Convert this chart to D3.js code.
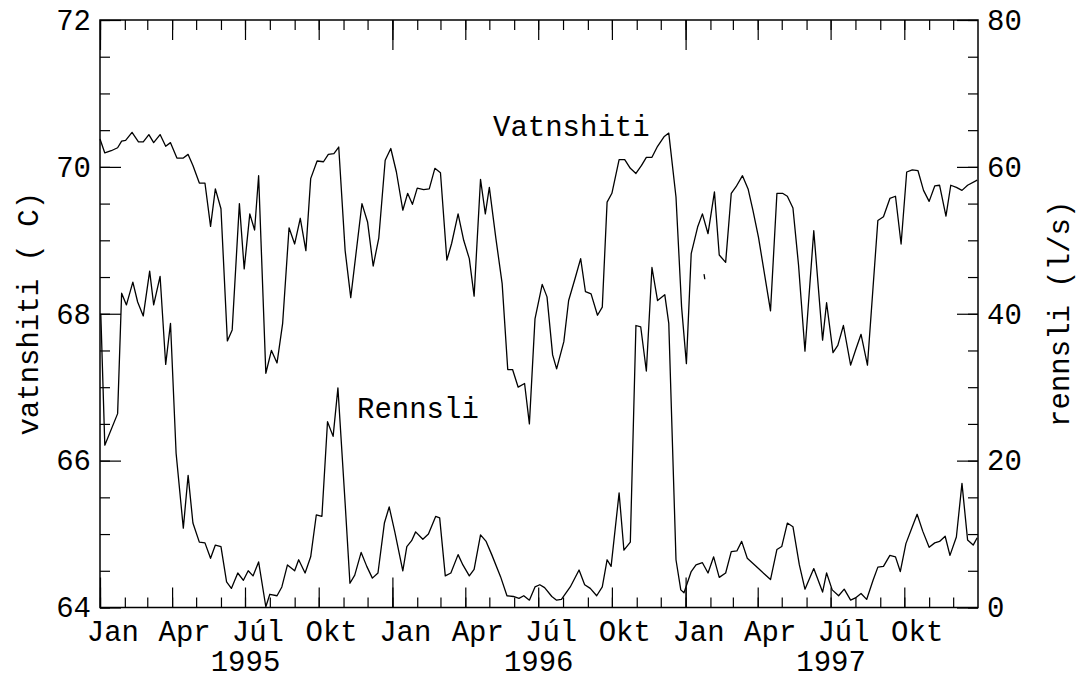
<!DOCTYPE html>
<html>
<head>
<meta charset="utf-8">
<script src="https://cdn.jsdelivr.net/npm/d3@7/dist/d3.min.js"></script>
<style>
  html, body { margin: 0; padding: 0; background: #fff; }
  svg { display: block; }
  text { font-family: "Courier New", "Liberation Mono", monospace; font-size: 29px; fill: #000; }
  .tick line { stroke: #000; stroke-width: 1.2; }
  .domain { display: none; }
  .series { fill: none; stroke: #000; stroke-width: 1.3; stroke-linejoin: round; }
</style>
</head>
<body>
<svg id="chart" width="1077" height="680"></svg>
<script>
// days since 1 Jan 1995, water temperature (C)
const vatnDays = [0,6,14,22,27,32,40,48,54,61,67,75,82,88,96,104,110,116,124,131,138,144,151,159,165,174,180,187,193,198,
  207,214,221,228,236,243,250,257,263,271,279,285,292,298,306,313,327,334,341,348,356,363,370,378,384,390,396,404,411,418,
  425,433,439,447,454,461,467,475,481,486,494,502,509,515,522,530,536,543,552,558,565,570,579,585,593,600,606,613,621,627,
  633,639,648,655,662,669,676,682,689,696,704,710,719,726,732,738,746,752,759,767,773,781,788,794,802,809,815,822,837,845,
  852,858,865,872,880,891,902,907,915,921,928,937,943,950,958,965,971,978,986,993,1000,1007,1014,1021,1028,1035,1042,1048,1056,1062,
  1069,1076,1083,1095];
const vatnTemp = [70.38,70.19,70.22,70.26,70.35,70.36,70.47,70.34,70.34,70.44,70.33,70.44,70.28,70.33,70.12,70.12,70.17,70.02,69.78,69.78,
  69.19,69.70,69.43,67.63,67.78,69.50,68.61,69.36,69.14,69.88,67.19,67.50,67.33,67.87,69.17,68.95,69.30,68.86,69.84,70.08,
  70.07,70.17,70.18,70.27,68.86,68.22,69.50,69.25,68.65,69.03,70.09,70.25,69.93,69.41,69.64,69.49,69.71,69.69,69.70,69.98,
  69.92,68.73,68.96,69.36,69.00,68.75,68.24,69.83,69.36,69.72,69.04,68.41,67.24,67.24,67.00,67.05,66.50,67.93,68.40,68.23,
  67.44,67.25,67.62,68.18,68.48,68.75,68.30,68.27,67.98,68.09,69.52,69.64,70.10,70.10,69.98,69.91,70.02,70.13,70.13,70.28,
  70.41,70.46,69.59,68.09,67.32,68.82,69.18,69.36,69.09,69.66,68.80,68.70,69.64,69.73,69.88,69.70,69.41,69.04,68.04,69.64,
  69.64,69.60,69.44,68.66,67.49,69.13,67.64,68.15,67.47,67.57,67.84,67.30,67.50,67.72,67.30,68.36,69.27,69.32,69.57,69.60,
  68.95,69.93,69.96,69.95,69.68,69.53,69.74,69.75,69.33,69.75,69.72,69.68,69.75,69.82];

// days since 1 Jan 1995, discharge (l/s)
const rennDays = [1,6,22,27,33,41,47,54,62,67,75,82,88,95,104,110,116,124,131,138,
  144,151,158,164,172,179,185,191,198,207,212,221,227,234,243,248,256,263,270,277,
  284,291,297,306,312,318,326,333,340,347,355,361,368,378,383,389,394,403,410,419,
  424,431,438,447,453,461,467,475,482,489,500,508,516,523,529,536,543,
  549,555,564,570,576,587,598,605,612,620,627,633,638,648,654,662,669,675,682,689,696,705,710,719,725,729,
  738,744,752,759,766,773,781,788,795,801,808,822,837,845,851,858,865,873,880,891,
  902,907,914,922,929,937,943,950,957,965,971,978,986,993,999,1006,1014,1020,1027,1035,
  1042,1048,1055,1061,1069,1076,1083,1090,1095];
const rennFlow = [40.0,22.1,26.4,42.8,41.2,44.3,41.6,39.7,45.8,41.2,45.1,33.1,38.7,21.0,10.8,18.0,11.5,8.9,8.8,6.7,
  8.5,8.3,3.5,2.6,4.7,3.7,5.0,4.3,6.2,0.1,1.8,1.6,2.8,5.8,5.0,6.5,4.7,6.9,12.6,12.4,
  25.3,23.3,29.9,14.2,3.3,4.4,7.5,5.6,4.0,4.7,11.5,13.7,10.3,5.0,8.3,9.1,10.3,9.3,10.0,12.4,
  12.2,4.3,4.7,7.2,5.8,4.3,5.2,9.9,9.0,7.2,4.2,1.6,1.5,1.25,1.6,1.0,2.8,
  3.1,2.7,1.5,1.0,1.1,2.8,5.1,3.1,2.6,1.6,2.8,6.5,5.6,15.6,7.8,8.9,38.4,38.2,32.2,46.3,41.8,42.6,38.7,6.5,2.4,2.0,
  4.9,5.8,6.1,4.7,6.9,4.1,4.7,7.6,7.7,9.0,6.7,5.3,3.8,7.9,8.3,11.5,11.0,5.8,2.5,5.3,
  2.1,4.7,2.4,1.6,2.5,1.0,1.3,1.9,1.1,3.7,5.5,5.6,7.1,6.9,4.9,8.7,11.0,12.7,10.4,8.2,
  8.8,9.0,9.7,7.1,9.6,16.9,9.2,8.5,9.5];

// small isolated fragment near Jan 1997
const strayDays = [754, 755];
const strayTemp = [68.54, 68.47];

const tempTicks = [64, 66, 68, 70, 72];
const flowTicks = [0, 20, 40, 60, 80];
const monthNames = ["Jan", "Apr", "Júl", "Okt"];
const years = [1995, 1996, 1997];

const svg = d3.select("#chart");
const plotLeft = 100, plotRight = 978, plotTop = 20, plotBottom = 607.5;

const start = new Date(Date.UTC(1995, 0, 1));
const end = new Date(Date.UTC(1998, 0, 1));
const day = d => d3.utcDay.offset(start, d);

const x = d3.scaleUtc().domain([start, end]).range([plotLeft, plotRight]);
const yTemp = d3.scaleLinear().domain([64, 72]).range([plotBottom, plotTop]);
const yFlow = d3.scaleLinear().domain([0, 80]).range([plotBottom, plotTop]);

svg.append("rect").attr("width", 1077).attr("height", 680).attr("fill", "#fff");

// month ticks, bottom and top
const months = d3.utcMonth.range(start, end);
const quarters = months.filter(d => d.getUTCMonth() % 3 === 0);
const januaries = months.filter(d => d.getUTCMonth() === 0);

for (const [vals, len] of [[months, 10], [quarters, 20], [januaries, 30]]) {
  svg.append("g").attr("transform", `translate(0,${plotBottom})`)
    .call(d3.axisBottom(x).tickValues(vals).tickSize(-len).tickFormat(""));
  svg.append("g").attr("transform", `translate(0,${plotTop})`)
    .call(d3.axisTop(x).tickValues(vals).tickSize(-len).tickFormat(""));
}

// month labels centred in their month
const midMonths = quarters.map(d => new Date((+d + +d3.utcMonth.offset(d, 1)) / 2));
svg.append("g").attr("transform", `translate(0,${plotBottom})`)
  .call(d3.axisBottom(x).tickValues(midMonths).tickSize(0).tickPadding(13)
    .tickFormat(d => monthNames[Math.floor(d.getUTCMonth() / 3)]));

svg.append("g").attr("transform", `translate(0,${plotBottom})`)
  .call(d3.axisBottom(x).tickValues(years.map(y => new Date(Date.UTC(y, 6, 1)))).tickSize(0).tickPadding(43)
    .tickFormat(d => d.getUTCFullYear()));

// left axis (temperature)
svg.append("g").attr("transform", `translate(${plotLeft},0)`)
  .call(d3.axisLeft(yTemp).tickValues(d3.range(64, 72.01, 0.5)).tickSize(-10).tickFormat(""));
svg.append("g").attr("transform", `translate(${plotLeft},0)`)
  .call(d3.axisLeft(yTemp).tickValues(tempTicks).tickSize(-21).tickPadding(9));

// right axis (flow)
svg.append("g").attr("transform", `translate(${plotRight},0)`)
  .call(d3.axisRight(yFlow).tickValues(d3.range(0, 80.01, 5)).tickSize(-10).tickFormat(""));
svg.append("g").attr("transform", `translate(${plotRight},0)`)
  .call(d3.axisRight(yFlow).tickValues(flowTicks).tickSize(-21).tickPadding(9));

// let the stylesheet font apply to tick labels
svg.selectAll("g").attr("font-family", null).attr("font-size", null);

// frame
svg.append("rect")
  .attr("x", plotLeft).attr("y", plotTop)
  .attr("width", plotRight - plotLeft).attr("height", plotBottom - plotTop)
  .attr("fill", "none").attr("stroke", "#000").attr("stroke-width", 1.5);

// series
const tempLine = d3.line().x(d => x(day(d[0]))).y(d => yTemp(d[1]));
const flowLine = d3.line().x(d => x(day(d[0]))).y(d => yFlow(d[1]));

svg.append("path").attr("class", "series")
  .attr("d", tempLine(d3.zip(vatnDays, vatnTemp)));
svg.append("path").attr("class", "series")
  .attr("d", tempLine(d3.zip(strayDays, strayTemp)));
svg.append("path").attr("class", "series")
  .attr("d", flowLine(d3.zip(rennDays, rennFlow)));

// series labels
svg.append("text").attr("x", 493).attr("y", 136).text("Vatnshiti");
svg.append("text").attr("x", 357).attr("y", 418).text("Rennsli");

// axis titles
svg.append("text")
  .attr("transform", `translate(38,${(plotTop + plotBottom) / 2}) rotate(-90)`)
  .attr("text-anchor", "middle").text("vatnshiti ( C)");
svg.append("text")
  .attr("transform", `translate(1069,${(plotTop + plotBottom) / 2}) rotate(-90)`)
  .attr("text-anchor", "middle").text("rennsli (l/s)");
</script>
</body>
</html>
